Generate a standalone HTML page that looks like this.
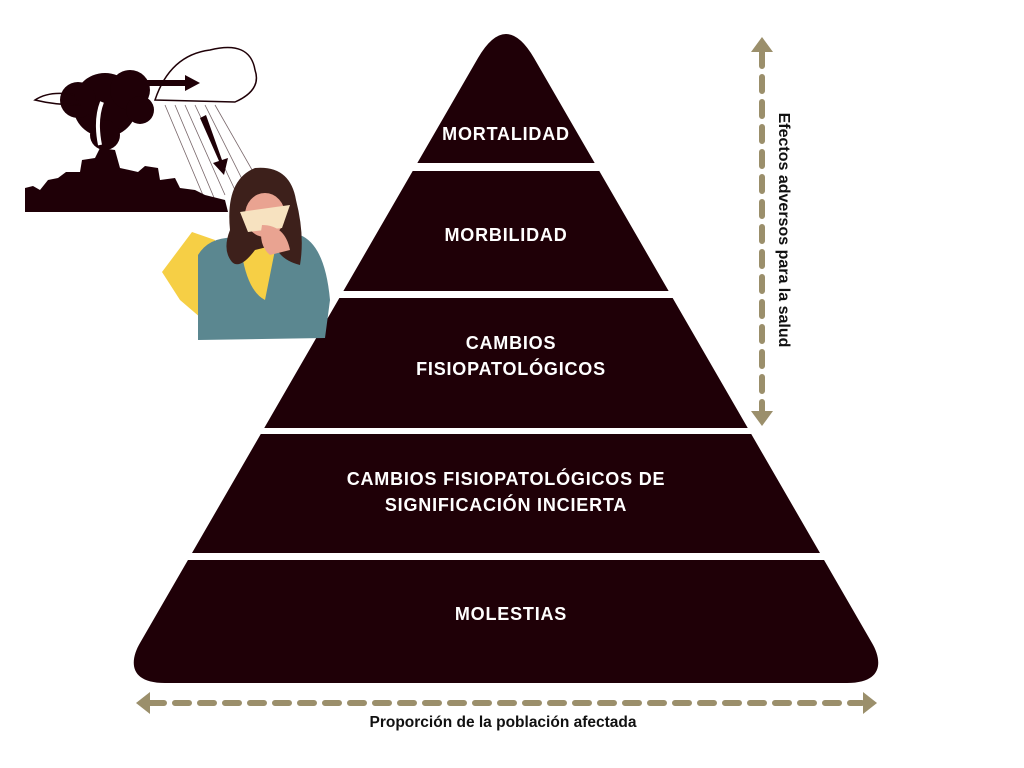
<!DOCTYPE html>
<html><head><meta charset="utf-8"><style>
body{margin:0;background:#fff;}
svg{display:block}
text{font-family:"Liberation Sans",sans-serif;}
</style></head><body>
<svg width="1024" height="768" viewBox="0 0 1024 768" xmlns="http://www.w3.org/2000/svg">
<!-- pyramid -->
<path d="M478,58 Q506,10 534,58 L872,643 C882,660 884,683 847,683 L165,683 C128,683 130,660 140,643 Z" fill="#1f0007"/>
<rect x="0" y="163" width="1024" height="8" fill="#fff"/>
<rect x="0" y="291" width="1024" height="7" fill="#fff"/>
<rect x="0" y="428" width="1024" height="6" fill="#fff"/>
<rect x="0" y="553" width="1024" height="7" fill="#fff"/>
<g fill="#fff" font-weight="bold" font-size="18" text-anchor="middle" letter-spacing="0.8">
<text x="506" y="140">MORTALIDAD</text>
<text x="506" y="241">MORBILIDAD</text>
<text x="511" y="349">CAMBIOS</text>
<text x="511" y="375">FISIOPATOLÓGICOS</text>
<text x="506" y="485">CAMBIOS FISIOPATOLÓGICOS DE</text>
<text x="506" y="511">SIGNIFICACIÓN INCIERTA</text>
<text x="511" y="620">MOLESTIAS</text>
</g>
<!-- arrows -->
<g stroke="#9b8f6b" stroke-width="6" stroke-linecap="round" fill="#9b8f6b">
<line x1="150" y1="703" x2="862" y2="703" stroke-dasharray="14 11"/>
<line x1="762" y1="52" x2="762" y2="412" stroke-dasharray="14 11"/>
</g>
<g fill="#9b8f6b">
<polygon points="136,703 150,692 150,714"/>
<polygon points="877,703 863,692 863,714"/>
<polygon points="762,37 751,52 773,52"/>
<polygon points="762,426 751,411 773,411"/>
</g>
<text x="503" y="727" font-size="15.5" font-weight="bold" text-anchor="middle" fill="#111">Proporción de la población afectada</text>
<text transform="translate(779,230) rotate(90)" font-size="16" font-weight="bold" text-anchor="middle" fill="#111">Efectos adversos para la salud</text>
<!-- illustration -->
<g fill="#1f0007">
<path d="M25,212 L25,188 L33,186 L40,190 L48,180 L58,178 L66,172 L80,172 L82,160 L95,158 L100,148 L115,150 L120,168 L138,172 L145,166 L158,168 L160,180 L175,178 L180,188 L195,190 L205,195 L225,200 L228,212 Z"/>
<circle cx="105" cy="105" r="32"/><circle cx="78" cy="100" r="18"/><circle cx="130" cy="90" r="20"/><circle cx="105" cy="135" r="15"/><circle cx="140" cy="110" r="14"/>
<rect x="130" y="80" width="55" height="6"/><polygon points="185,75 200,83 185,91"/>
<polygon points="200,118 206,115 222,160 228,158 224,175 213,163 219,161"/>
</g>
<path d="M100,145 Q95,120 102,102" stroke="#fff" stroke-width="4" fill="none"/>
<path d="M35,100 Q50,90 75,95 L80,105 Q55,105 35,100Z" fill="none" stroke="#1f0007" stroke-width="1.5"/>
<path d="M155,100 Q170,55 210,50 Q250,40 255,70 Q262,90 235,102 Z" fill="none" stroke="#1f0007" stroke-width="1.5"/>
<g stroke="#1f0007" stroke-width="0.8" opacity="0.6">
<line x1="165" y1="105" x2="205" y2="200"/><line x1="175" y1="105" x2="215" y2="200"/><line x1="185" y1="105" x2="225" y2="195"/><line x1="195" y1="105" x2="235" y2="190"/><line x1="205" y1="105" x2="245" y2="185"/><line x1="215" y1="105" x2="255" y2="175"/>
</g>
<polygon points="162,272 192,232 215,240 215,330 180,300" fill="#f6cf45"/>
<path d="M198,255 Q210,235 240,238 L300,235 Q325,245 330,300 L325,338 L198,340 Z" fill="#5b8790"/>
<path d="M240,240 Q245,290 265,300 L275,250 Z" fill="#f6cf45"/>
<path d="M230,230 Q225,180 255,168 Q290,165 296,200 Q305,235 300,265 Q280,260 275,245 L255,250 Q240,270 232,262 Q222,250 230,230Z" fill="#3d201b"/>
<ellipse cx="265" cy="215" rx="20" ry="22" fill="#e9a391"/>
<polygon points="240,212 290,205 282,228 248,232" fill="#f7e2c0"/>
<path d="M262,225 Q285,225 290,250 L270,255 Q258,245 262,225Z" fill="#e9a391"/>
</svg>
</body></html>
